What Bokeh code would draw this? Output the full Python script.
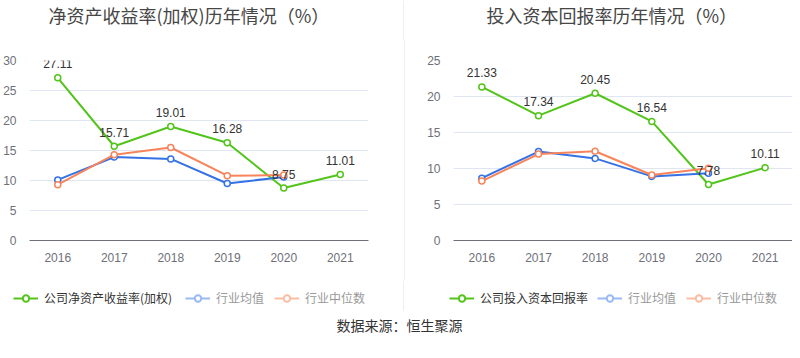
from bokeh.plotting import figure
from bokeh.models import (FactorRange, Range1d, SingleIntervalTicker, Label, Legend,
                          LegendItem, ColumnDataSource, Span, BoxAnnotation)
from bokeh.layouts import row, column
from bokeh.embed import file_html
from bokeh.resources import INLINE

years = ["2016", "2017", "2018", "2019", "2020", "2021"]

roe_company = [27.11, 15.71, 19.01, 16.28, 8.75, 11.01]
roe_avg = [10.1, 13.9, 13.6, 9.5, 10.6]
roe_median = [9.3, 14.3, 15.5, 10.8, 10.9]

roic_company = [21.33, 17.34, 20.45, 16.54, 7.78, 10.11]
roic_avg = [8.65, 12.35, 11.4, 8.9, 9.35]
roic_median = [8.25, 12.0, 12.4, 9.1, 10.05]

titles = ["净资产收益率(加权)历年情况（%）", "投入资本回报率历年情况（%）"]
company_names = ["公司净资产收益率(加权)", "公司投入资本回报率"]
industry_names = ["行业均值", "行业中位数"]
source_text = "数据来源：恒生聚源"

GREEN = "#52c41a"
BLUE = "#3472e6"
ORANGE = "#f7845a"
BLUE_FADED = "#9ab8f2"
ORANGE_FADED = "#fbbca3"
DIVIDER = "#eeeeee"
CJK = "Noto Sans CJK SC"
LAT = "Liberation Sans"
S = 7  # strip frame offset compensation


def strip(width, height):
    s = figure(width=width, height=height, x_range=Range1d(0, width),
               y_range=Range1d(0, height), min_border=0, output_backend="svg",
               toolbar_location=None, x_axis_type=None, y_axis_type=None)
    s.grid.visible = False
    s.outline_line_color = None
    return s


def make_chart(company, avg, median, ymax, width, bl, br):
    p = figure(x_range=FactorRange(*years), y_range=Range1d(0, ymax),
               width=width, height=240, frame_width=339, frame_height=180,
               min_border_left=bl, min_border_right=br, min_border_top=20,
               min_border_bottom=40, output_backend="svg", toolbar_location=None)
    p.outline_line_color = None
    p.xgrid.grid_line_color = None
    p.ygrid.grid_line_color = "#e0e6f1"
    p.yaxis.ticker = SingleIntervalTicker(interval=5)
    p.yaxis.axis_line_color = None
    p.yaxis.major_tick_line_color = None
    p.yaxis.minor_tick_line_color = None
    p.yaxis.major_label_text_color = "#6e7079"
    p.yaxis.major_label_text_font = LAT
    p.yaxis.major_label_text_font_size = "12px"
    p.yaxis.major_label_standoff = 7
    p.xaxis.axis_line_color = "#6e7079"
    p.xaxis.major_tick_line_color = None
    p.xaxis.minor_tick_line_color = None
    p.xaxis.major_label_text_color = "#6e7079"
    p.xaxis.major_label_text_font = LAT
    p.xaxis.major_label_text_font_size = "12px"
    p.xaxis.major_label_standoff = 6

    series = [(company, GREEN, years), (avg, BLUE, years[:len(avg)]),
              (median, ORANGE, years[:len(median)])]
    for vals, col, xs in series:
        src = ColumnDataSource(dict(x=xs, y=vals))
        p.line("x", "y", source=src, line_color=col, line_width=2)
        p.scatter("x", "y", source=src, size=6, line_color=col, line_width=1.5,
                  fill_color="white")

    lab = ColumnDataSource(dict(x=years, y=company, t=["%.2f" % v for v in company]))
    p.text("x", "y", text="t", source=lab, text_align="center", text_baseline="middle",
           y_offset=-14, text_color="#333333", text_font_size="12px",
           text_font={"value": LAT})
    return p


p1 = make_chart(roe_company, roe_avg, roe_median, 30, 396, 21, 36)
p2 = make_chart(roic_company, roic_avg, roic_median, 25, 387, 48, 0)
p2.styles = {"border-left": "1px solid " + DIVIDER}

# top strip: titles
top = strip(784, 40)
top.add_layout(Span(location=396 + S, dimension="height", line_color=DIVIDER,
                    line_width=1))
for txt, lx in zip(titles, [41, 479]):
    top.add_layout(Label(x=lx + S, y=26, text=txt, text_align="left",
                         text_baseline="middle", text_font=CJK,
                         text_font_size="18px", text_color="#464646"))

# bottom strip: legends + source
bottom = strip(784, 70)
bottom.add_layout(BoxAnnotation(left=395.5 + S, right=396.5 + S, bottom=40, top=70,
                                fill_color=DIVIDER, fill_alpha=1, line_alpha=0))
legend_x = [[6, 178, 267], [442, 590, 679]]
for cname, xs in zip(company_names, legend_x):
    items = [(cname, GREEN, "#333333"), (industry_names[0], BLUE_FADED, "#999999"),
             (industry_names[1], ORANGE_FADED, "#999999")]
    for (name, col, tcol), lx in zip(items, xs):
        dsrc = ColumnDataSource(dict(x=[float("nan")], y=[float("nan")]))
        r1 = bottom.line("x", "y", source=dsrc, line_color=col, line_width=2)
        r2 = bottom.scatter("x", "y", source=dsrc, size=11, line_color=col,
                            line_width=2, fill_color="white")
        lg = Legend(items=[LegendItem(label=name, renderers=[r1, r2])],
                    location=(lx + S, 44), padding=0, margin=0, border_line_alpha=0,
                    background_fill_alpha=0, glyph_width=25, glyph_height=16,
                    label_height=16, label_standoff=6, label_text_font=CJK,
                    label_text_font_size="12px", label_text_color=tcol,
                    label_text_baseline="middle")
        bottom.add_layout(lg, "center")

bottom.add_layout(Label(x=392 + S, y=26, text=source_text, text_align="center",
                        text_baseline="middle", text_font=CJK, text_font_size="14px",
                        text_color="#333333"))

layout = column(top, row(p1, p2, spacing=0), bottom, spacing=0)
open("out.html", "w").write(file_html(layout, INLINE))
